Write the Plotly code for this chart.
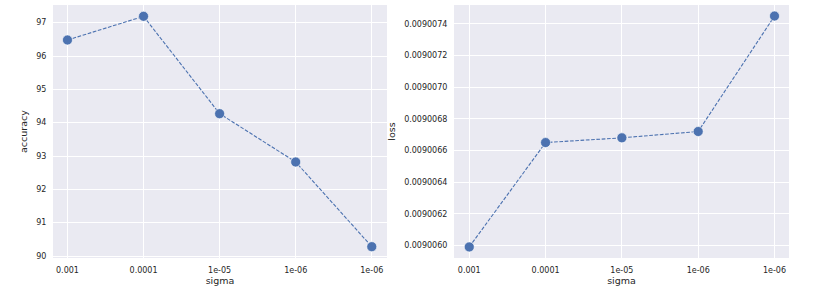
import plotly.graph_objects as go

sigma_labels = ["0.001", "0.0001", "1e-05", "1e-06", "1e-06"]
accuracy = [96.48, 97.19, 94.27, 92.82, 90.28]
loss = [0.00900599, 0.00900665, 0.00900668, 0.00900672, 0.00900745]

acc_ticks = [90, 91, 92, 93, 94, 95, 96, 97]
loss_ticks = [0.0090060, 0.0090062, 0.0090064, 0.0090066, 0.0090068, 0.0090070, 0.0090072, 0.0090074]
loss_tick_text = ["%.7f" % v for v in loss_ticks]

pos = list(range(len(sigma_labels)))
blue = "#4C72B0"
font_color = "#262626"

fig = go.Figure()
fig.add_trace(go.Scatter(x=pos, y=accuracy, mode="lines+markers", xaxis="x", yaxis="y",
                         line=dict(color=blue, width=1.1, dash="3.7px,1.6px"),
                         marker=dict(color=blue, size=10, line=dict(color="white", width=0.6)),
                         showlegend=False))
fig.add_trace(go.Scatter(x=pos, y=loss, mode="lines+markers", xaxis="x2", yaxis="y2",
                         line=dict(color=blue, width=1.1, dash="3.7px,1.6px"),
                         marker=dict(color=blue, size=10, line=dict(color="white", width=0.6)),
                         showlegend=False))

axis_common = dict(showgrid=True, gridcolor="white", gridwidth=1, zeroline=False,
                   showline=False, ticks="outside", ticklen=4, tickcolor="rgba(0,0,0,0)",
                   automargin=False,
                   tickfont=dict(size=8, color=font_color, family="DejaVu Sans"))

fig.update_layout(
    width=814, height=288,
    margin=dict(l=0, r=0, t=0, b=0),
    paper_bgcolor="white", plot_bgcolor="#EAEAF2",
    font=dict(family="DejaVu Sans", color=font_color),
    xaxis=dict(domain=[53/814, 387/814], anchor="y", range=[-0.19, 4.2],
               tickmode="array", tickvals=pos, ticktext=sigma_labels,
               title=dict(text="sigma", font=dict(size=9.5), standoff=2), **axis_common),
    yaxis=dict(domain=[1-258/288, 1-5/288], anchor="x", range=[89.94, 97.53],
               tickmode="array", tickvals=acc_ticks, ticktext=[str(v) for v in acc_ticks],
               title=dict(text="accuracy", font=dict(size=9.5), standoff=6), **axis_common),
    xaxis2=dict(domain=[454/814, 789/814], anchor="y2", range=[-0.2, 4.19],
                tickmode="array", tickvals=pos, ticktext=sigma_labels,
                title=dict(text="sigma", font=dict(size=9.5), standoff=2), **axis_common),
    yaxis2=dict(domain=[1-258/288, 1-5/288], anchor="x2", range=[0.00900592, 0.00900752],
                tickmode="array", tickvals=loss_ticks, ticktext=loss_tick_text,
                title=dict(text="loss", font=dict(size=9.5), standoff=6), **axis_common),
)

fig.write_html("out.html", config={"displayModeBar": False},
               post_script="document.body.style.margin='0';document.body.style.overflow='hidden';")
